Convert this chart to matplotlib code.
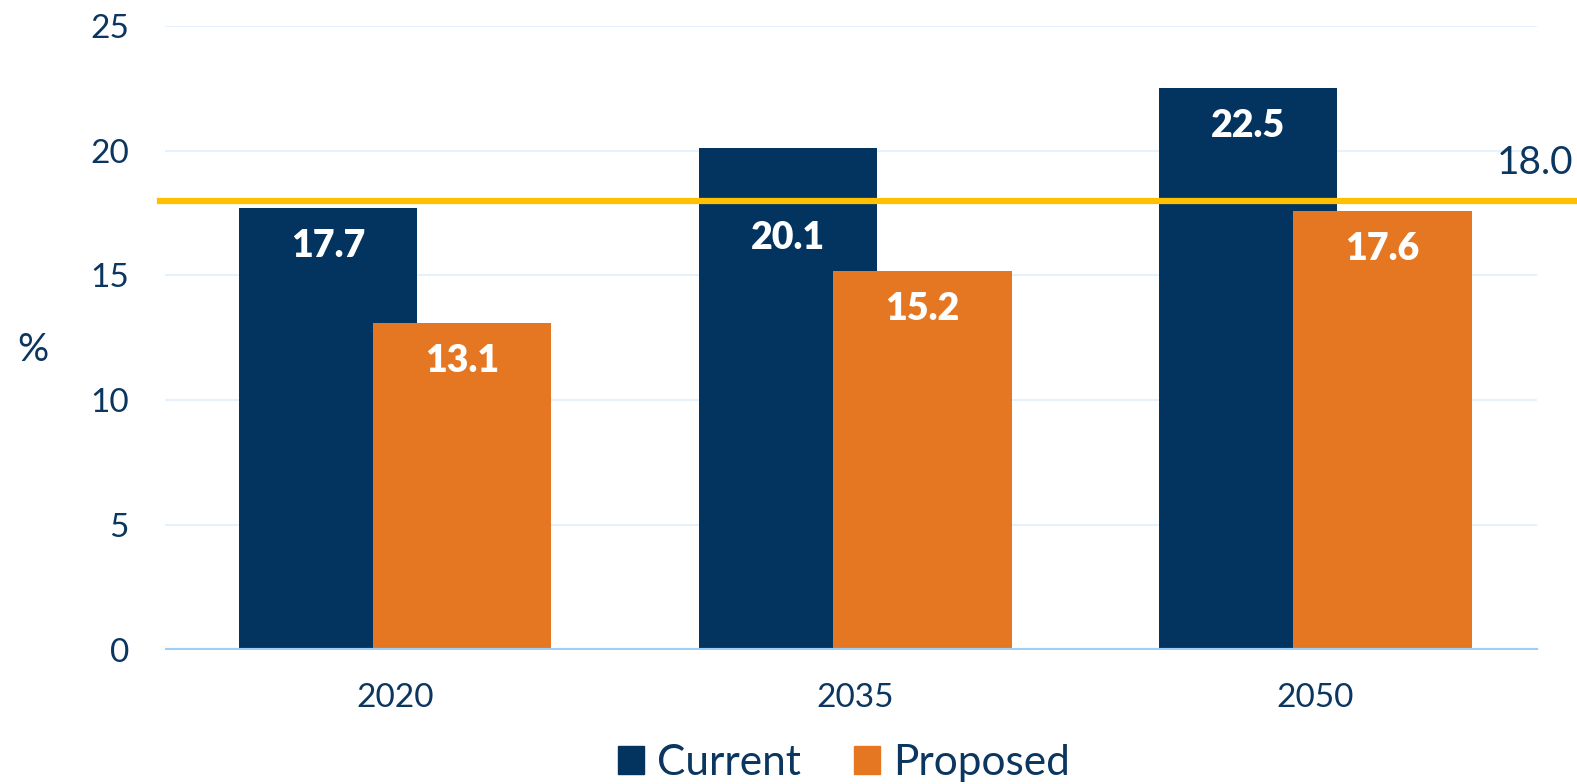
import matplotlib
matplotlib.use("Agg")
import matplotlib.pyplot as plt
from matplotlib.patches import Patch
import numpy as np

years = ["2020", "2035", "2050"]
current = [17.7, 20.1, 22.5]
proposed = [13.1, 15.2, 17.6]
threshold = 18.0
yticks = [0, 5, 10, 15, 20, 25]

NAVY = "#03345F"
ORANGE = "#E67722"
TEXT = "#0B3660"
GOLD = "#FFC000"

plt.rcParams["font.family"] = ["Lato", "DejaVu Sans"]

fig = plt.figure(figsize=(15.77, 7.84), dpi=100)
ax = fig.add_axes([0.1046, 0.171, 0.8754, 0.796])

x = np.arange(len(years))
width = 0.388
offset = 0.146

b1 = ax.bar(x - offset, current, width, color=NAVY, zorder=2)
b2 = ax.bar(x + offset, proposed, width, color=ORANGE, zorder=3)

ax.set_xlim(-0.5, 2.5)
ax.set_ylim(0, 25)

# Value labels just inside the bar tops; a label that would sit on the
# threshold line is moved just below it.
thr_px = ax.transData.transform((0, threshold))[1]
for bars, vals in ((b1, current), (b2, proposed)):
    for rect, v in zip(bars, vals):
        cx = rect.get_x() + rect.get_width() / 2
        top_px = ax.transData.transform((cx, v))[1]
        dy = -38
        if abs((top_px + dy) - thr_px) < 30:
            dy = (thr_px - 37) - top_px
        ax.annotate(f"{v:.1f}", (cx, v),
                    xytext=(0, dy), textcoords="offset pixels",
                    ha="center", va="center", color="white",
                    fontsize=27, fontweight="heavy", zorder=5)

ax.set_yticks(yticks)
ax.set_yticklabels([str(t) for t in yticks])
ax.set_xticks(x)
ax.set_xticklabels(years)
ax.tick_params(axis="both", length=0, labelsize=24, colors=TEXT)
ax.tick_params(axis="y", pad=26)
ax.tick_params(axis="x", pad=24)

for t in yticks[1:]:
    ax.axhline(t, xmin=0, xmax=0.993, color="#E6F1FB", lw=1.5, zorder=1)
ax.axhline(0, xmin=0, xmax=0.993, color="#9DCEF5", lw=3, zorder=4)

for s in ax.spines.values():
    s.set_visible(False)

# Threshold line spanning the full figure width
thr_fig = fig.transFigure.inverted().transform((0, thr_px))[1]
fig.add_artist(plt.Line2D([160 / 1577, 1.0], [thr_fig, thr_fig], color=GOLD, lw=4.5,
                          transform=fig.transFigure, zorder=6))
fig.text(1573 / 1577, (784 - 163) / 784, f"{threshold:.1f}", ha="right", va="center",
         fontsize=28, color=TEXT)

fig.text(33 / 1577, (784 - 350) / 784, "%", ha="center", va="center",
         fontsize=28, color=TEXT)

handles = [Patch(color=NAVY, label="Current"), Patch(color=ORANGE, label="Proposed")]
fig.legend(handles=handles, loc="lower center", bbox_to_anchor=(0.535, -0.046),
           ncol=2, frameon=False, fontsize=30.5, labelcolor=TEXT,
           handlelength=0.62, handleheight=0.62, handletextpad=0.3,
           columnspacing=1.25)

fig.savefig("out.png", dpi=100)
